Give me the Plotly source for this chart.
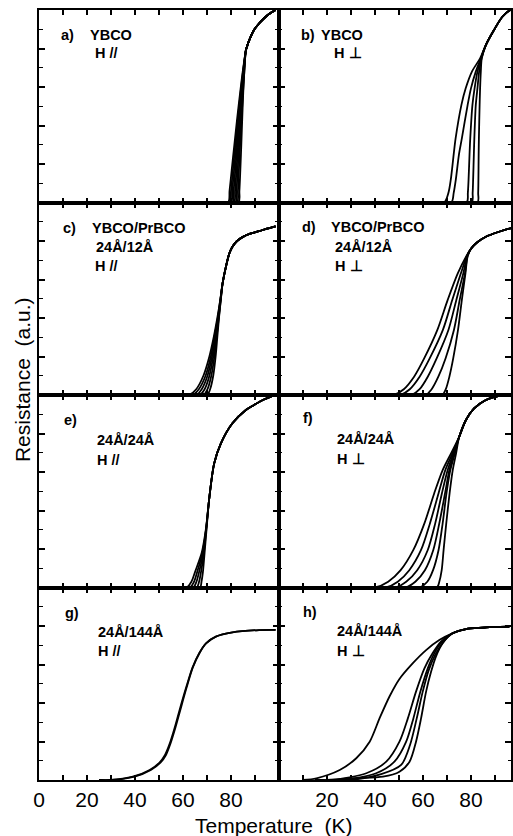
import plotly.graph_objects as go

# ---------------- data: R(T) curves, resistance normalised to the panel height ----------------
# a) YBCO, H parallel
A_T = [
    [70, 78.8, 79.4, 80.3, 81.4, 82.6, 83.8, 85.0, 86.2],
    [70, 79.4, 80.0, 80.8, 81.8, 82.9, 84.0, 85.1, 86.2],
    [70, 80.0, 80.5, 81.3, 82.2, 83.2, 84.2, 85.2, 86.2],
    [70, 80.6, 81.1, 81.8, 82.6, 83.5, 84.4, 85.3, 86.2],
    [70, 81.2, 81.7, 82.3, 83.0, 83.8, 84.6, 85.4, 86.2],
    [70, 81.9, 82.3, 82.8, 83.4, 84.1, 84.8, 85.5, 86.2],
    [70, 82.5, 82.9, 83.3, 83.8, 84.4, 85.0, 85.6, 86.2],
    [70, 83.1, 83.5, 83.9, 84.3, 84.7, 85.1, 85.6, 86.2],
]
A_R = [0, 0, 0.06, 0.17, 0.30, 0.44, 0.57, 0.69, 0.79]
A_UP_T = [86.8, 87.5, 89.6, 91.7, 93.8, 96.0, 98.6]
A_UP_R = [0.815, 0.84, 0.896, 0.93, 0.957, 0.98, 1.0]

# b) YBCO, H perpendicular
B_T = [
    [60, 68.8, 70.6, 71.6, 72.8, 73.6, 76.0, 77.8, 80.4, 83.8],
    [60, 71.8, 72.8, 73.7, 75.0, 76.2, 78.6, 80.0, 82.0, 84.1],
    [60, 78.2, 78.7, 79.0, 79.4, 79.7, 80.6, 81.5, 82.7, 84.2],
    [60, 80.3, 80.7, 80.9, 81.2, 81.4, 82.0, 82.7, 83.4, 84.4],
    [60, 82.7, 83.0, 83.1, 83.2, 83.3, 83.6, 83.8, 84.1, 84.5],
]
B_R = [0, 0, 0.05, 0.12, 0.25, 0.333, 0.506, 0.593, 0.68, 0.749]
B_UP_T = [86.2, 89.6, 93.1, 96.5, 98.0]
B_UP_R = [0.818, 0.896, 0.965, 1.0, 1.0]

# c) YBCO/PrBCO 24Å/12Å, H parallel
C_T = [
    [55, 62.5, 65.5, 68.5, 71.0, 72.8, 74.3, 75.6],
    [55, 64.0, 66.6, 69.4, 71.6, 73.1, 74.5, 75.6],
    [55, 65.5, 67.8, 70.2, 72.1, 73.5, 74.6, 75.7],
    [55, 67.0, 69.0, 71.0, 72.6, 73.8, 74.8, 75.7],
    [55, 68.5, 70.2, 71.8, 73.1, 74.0, 74.9, 75.8],
    [55, 70.0, 71.3, 72.6, 73.6, 74.3, 75.0, 75.8],
]
C_R = [0, 0, 0.03, 0.10, 0.20, 0.30, 0.40, 0.50]
C_UP_T = [76.5, 77.9, 79.3, 80.6, 82.5, 84.8, 88.0, 91.7, 95.0, 98.6]
C_UP_R = [0.58, 0.667, 0.735, 0.77, 0.80, 0.82, 0.838, 0.851, 0.864, 0.876]

# d) YBCO/PrBCO 24Å/12Å, H perpendicular
D_T = [
    [40, 47.7, 52.0, 56.3, 60.5, 66.0, 70.3, 74.5, 78.0],
    [40, 50.5, 54.5, 58.6, 62.8, 68.3, 72.2, 75.8, 78.2],
    [40, 55.2, 58.6, 62.0, 65.7, 70.6, 73.9, 76.8, 78.4],
    [40, 61.0, 63.6, 66.4, 69.4, 72.9, 75.3, 77.5, 78.5],
    [40, 68.0, 69.5, 71.0, 72.6, 74.6, 76.2, 77.7, 78.6],
]
D_R = [0, 0, 0.03, 0.095, 0.19, 0.338, 0.494, 0.632, 0.72]
D_UP_T = [80.0, 82.5, 86.2, 91.7, 96.5, 98.0]
D_UP_R = [0.76, 0.792, 0.822, 0.848, 0.866, 0.87]

# e) 24Å/24Å, H parallel
E_T = [
    [55, 61.5, 63.5, 65.0, 67.8, 69.5],
    [55, 62.9, 64.6, 65.9, 68.1, 69.6],
    [55, 64.3, 65.6, 66.7, 68.4, 69.6],
    [55, 65.7, 66.7, 67.5, 68.7, 69.7],
    [55, 67.1, 67.7, 68.3, 69.0, 69.8],
]
E_R = [0, 0, 0.03, 0.08, 0.18, 0.30]
E_UP_T = [71.0, 73.0, 75.8, 80.6, 86.2, 89.6, 93.5, 98.6]
E_UP_R = [0.47, 0.645, 0.749, 0.853, 0.922, 0.948, 0.975, 1.0]

# f) 24Å/24Å, H perpendicular
F_T = [
    [30, 40.0, 45.5, 50.7, 56.0, 60.6, 64.7, 68.2, 71.7, 75.1],
    [30, 44.5, 49.5, 54.3, 59.2, 62.9, 66.5, 69.3, 72.3, 75.1],
    [30, 48.5, 53.0, 57.6, 62.0, 65.1, 67.9, 70.3, 72.7, 75.1],
    [30, 52.8, 56.8, 60.8, 64.3, 66.8, 69.2, 71.0, 73.0, 75.1],
    [30, 58.5, 61.8, 64.2, 66.5, 68.2, 69.8, 71.4, 73.3, 75.1],
    [30, 65.8, 66.8, 67.8, 68.6, 69.7, 71.1, 72.4, 73.8, 75.1],
]
F_R = [0, 0, 0.03, 0.09, 0.195, 0.333, 0.49, 0.61, 0.697, 0.783]
F_UP_T = [77.9, 81.3, 86.2, 91.7, 97.0]
F_UP_R = [0.87, 0.93, 0.974, 0.996, 1.0]

# g) 24Å/144Å, H parallel
G_T = [
    [25, 29.5, 39.1, 46.1, 50.2, 52.5, 54.5, 56.5, 58.5, 61.3, 64.0, 66.8, 69.6],
    [25, 30.5, 39.8, 46.6, 50.6, 52.9, 54.8, 56.8, 58.8, 61.5, 64.1, 66.9, 69.6],
]
G_R = [0, 0, 0.017, 0.052, 0.09, 0.13, 0.19, 0.27, 0.36, 0.48, 0.585, 0.66, 0.71]
G_UP_T = [73.7, 80.6, 91.7, 98.6]
G_UP_R = [0.745, 0.767, 0.779, 0.78]

# h) 24Å/144Å, H perpendicular
H_T = [
    [10, 15.6, 25.3, 32.2, 37.8, 41.9, 46.1, 50.2, 55.7, 61.3, 66.8, 72.3],
    [15, 22.5, 36.4, 44.7, 50.2, 53.7, 57.1, 60.6, 64.0, 67.5, 72.3],
    [15, 26.7, 40.5, 48.1, 53.0, 56.0, 58.9, 62.0, 64.7, 67.9, 72.3],
    [15, 29.5, 42.6, 50.9, 54.6, 57.4, 59.9, 62.4, 65.1, 68.2, 72.3],
    [20, 32.2, 43.3, 50.2, 54.4, 57.1, 59.2, 61.3, 63.4, 65.4, 68.2, 72.3],
]
H_R = [
    [0, 0.009, 0.052, 0.113, 0.199, 0.32, 0.435, 0.525, 0.606, 0.675, 0.727, 0.762],
    [0, 0.0, 0.035, 0.095, 0.199, 0.32, 0.459, 0.58, 0.658, 0.719, 0.762],
    [0, 0.0, 0.035, 0.095, 0.199, 0.32, 0.459, 0.58, 0.658, 0.719, 0.762],
    [0, 0.0, 0.03, 0.078, 0.182, 0.32, 0.459, 0.571, 0.65, 0.712, 0.762],
    [0, 0.009, 0.017, 0.043, 0.095, 0.199, 0.32, 0.459, 0.563, 0.641, 0.71, 0.762],
]
H_UP_T = [77.9, 84.8, 90.0, 96.0]
H_UP_R = [0.784, 0.791, 0.795, 0.797]

# panel captions: (text, left x px, centre y px)
CAPTIONS = {
    1: [("a)", 59, 35), ("YBCO", 88, 35), ("H //", 93, 53)],
    2: [("b)", 300, 35), ("YBCO", 320, 35), ("H ⊥", 333, 53)],
    3: [("c)", 61, 228), ("YBCO/PrBCO", 90, 228), ("24Å/12Å", 94, 247), ("H //", 93, 266)],
    4: [("d)", 301, 227), ("YBCO/PrBCO", 330, 227), ("24Å/12Å", 334, 247), ("H ⊥", 334, 266)],
    5: [("e)", 62, 420), ("24Å/24Å", 95, 440), ("H //", 95, 460)],
    6: [("f)", 302, 418), ("24Å/24Å", 336, 439), ("H ⊥", 336, 459)],
    7: [("g)", 63, 613), ("24Å/144Å", 96, 632), ("H //", 96, 651)],
    8: [("h)", 302, 612), ("24Å/144Å", 336, 631), ("H ⊥", 336, 651)],
}

X_TICKS = [0, 10, 20, 30, 40, 50, 60, 70, 80, 90]
X_TEXT_LEFT = ["0", "", "20", "", "40", "", "60", "", "80", ""]
X_TEXT_RIGHT = ["", "", "20", "", "40", "", "60", "", "80", ""]

# ---------------- layout geometry (pixels) ----------------
W, H = 513, 836
ML, MR, MT, MB = 39, 0, 10, 56
PW, PH = W - ML - MR, H - MT - MB
LEFT_W = 241                    # 100 K at 2.41 px/K
SPLIT = LEFT_W / PW
RIGHT_MAX = (PW - LEFT_W) / 2.41

FONT = "Liberation Sans, Arial, sans-serif"

fig = go.Figure()


def add_curves(k, t_lists, r_lists, up_t, up_r):
    for i, t in enumerate(t_lists):
        r = r_lists[i] if isinstance(r_lists[0], list) else r_lists
        fig.add_trace(go.Scatter(
            x=t + up_t, y=r + up_r, xaxis=f"x{k}", yaxis=f"y{k}",
            mode="lines", hoverinfo="skip", showlegend=False,
            line=dict(color="black", width=1.8, shape="spline", smoothing=0.8),
        ))


add_curves(1, A_T, A_R, A_UP_T, A_UP_R)
add_curves(2, B_T, B_R, B_UP_T, B_UP_R)
add_curves(3, C_T, C_R, C_UP_T, C_UP_R)
add_curves(4, D_T, D_R, D_UP_T, D_UP_R)
add_curves(5, E_T, E_R, E_UP_T, E_UP_R)
add_curves(6, F_T, F_R, F_UP_T, F_UP_R)
add_curves(7, G_T, G_R, G_UP_T, G_UP_R)
add_curves(8, H_T, H_R, H_UP_T, H_UP_R)

layout = dict(
    width=W, height=H,
    margin=dict(l=ML, r=MR, t=MT, b=MB, pad=0),
    paper_bgcolor="white", plot_bgcolor="white",
    font=dict(family=FONT, color="black"),
    showlegend=False,
)

for k in range(1, 9):
    row, col = (k - 1) // 2, (k - 1) % 2
    xdom = [0, SPLIT] if col == 0 else [SPLIT, 1]
    ydom = [1 - (row + 1) / 4, 1 - row / 4]
    bottom = row == 3
    sfx = "" if k == 1 else str(k)
    layout["xaxis" + sfx] = dict(
        domain=xdom, anchor=f"y{k}",
        range=[0, 100] if col == 0 else [0, RIGHT_MAX],
        showline=True, linecolor="black", linewidth=2, mirror="allticks",
        ticks="inside", ticklen=5, tickwidth=1.5, tickcolor="black",
        tickvals=X_TICKS, ticktext=X_TEXT_LEFT if col == 0 else X_TEXT_RIGHT,
        showticklabels=bottom, tickfont=dict(size=21, family=FONT),
        showgrid=False, zeroline=False, fixedrange=True,
    )
    layout["yaxis" + sfx] = dict(
        domain=ydom, anchor=f"x{k}", range=[0, 1],
        showline=True, linecolor="black", linewidth=2, mirror="allticks",
        ticks="inside", ticklen=6, tickwidth=1.5, tickcolor="black",
        tick0=0, dtick=0.2, showticklabels=False,
        minor=dict(ticks="inside", dtick=0.1, ticklen=3.5, tickwidth=1.2, tickcolor="black"),
        showgrid=False, zeroline=False, fixedrange=True,
    )

annotations = []
for k, items in CAPTIONS.items():
    for text, px, py in items:
        annotations.append(dict(
            xref="paper", yref="paper",
            x=(px - ML) / PW, y=(H - MB - py) / PH,
            xanchor="left", yanchor="middle", showarrow=False,
            text=f"<b>{text}</b>", font=dict(size=14.5, family=FONT, color="black"),
        ))

annotations.append(dict(
    xref="paper", yref="paper", x=(275 - ML) / PW, y=(H - MB - 825) / PH,
    xanchor="center", yanchor="middle", showarrow=False,
    text="Temperature  (K)", font=dict(size=21, family=FONT, color="black"),
))
annotations.append(dict(
    xref="paper", yref="paper", x=(22 - ML) / PW, y=(H - MB - 380) / PH,
    xanchor="center", yanchor="middle", showarrow=False, textangle=-90,
    text="Resistance  (a.u.)", font=dict(size=21, family=FONT, color="black"),
))
layout["annotations"] = annotations

fig.update_layout(**layout)
fig.write_html("out.html")
